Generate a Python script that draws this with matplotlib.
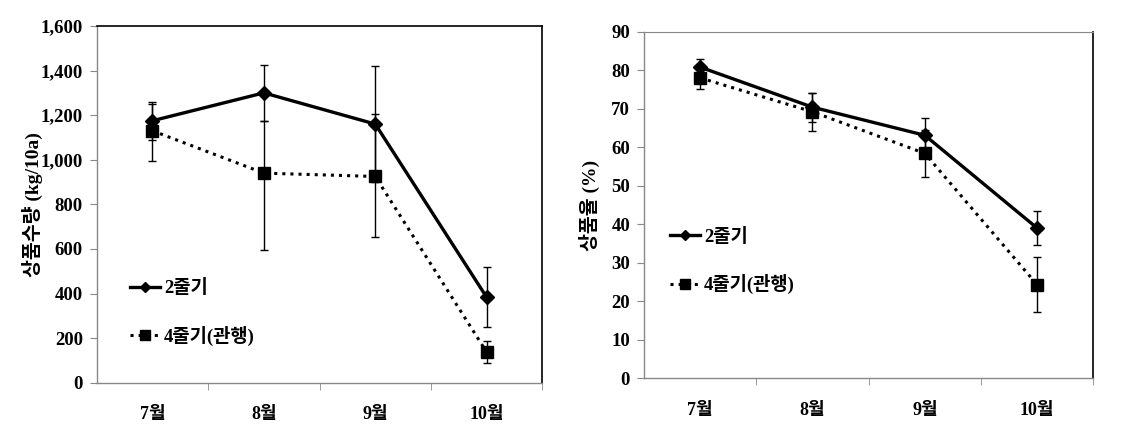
import matplotlib.pyplot as plt

plt.rcParams['font.family'] = ['Liberation Serif', 'Noto Sans CJK KR']
plt.rcParams['font.weight'] = 'bold'

months = ['7월', '8월', '9월', '10월']
labels = ['2줄기', '4줄기(관행)']

# 상품수량 (kg/10a)
yield2 = [1175, 1300, 1160, 383]
yield2_err = [85, 125, 260, 135]
yield4 = [1130, 940, 925, 137]
yield4_err_lo = [135, 345, 270, 50]
yield4_err_hi = [120, 235, 280, 50]

# 상품율 (%)
rate2 = [80.8, 70.4, 63.1, 39.0]
rate2_err = [2.2, 3.8, 4.4, 4.5]
rate4 = [78.0, 69.2, 58.4, 24.3]
rate4_err = [3.0, 5.0, 6.0, 7.2]

fig = plt.figure(figsize=(11.29, 4.42), dpi=100)
ax1 = fig.add_axes([0.0857, 0.1342, 0.3947, 0.807])
ax2 = fig.add_axes([0.5704, 0.1441, 0.398, 0.7842])

x = [1, 2, 3, 4]


def draw(ax, a, ae, b, be, ylim, yticks, ytl, ylabel, leg_pos, lpad):
    ax.errorbar(x, a, yerr=ae, color='black', lw=2.4, marker='D', ms=7,
                ecolor='black', elinewidth=1, capsize=3, capthick=1, label=labels[0])
    ax.errorbar(x, b, yerr=be, color='black', lw=2.2, ls=':', marker='s', ms=9,
                ecolor='black', elinewidth=1, capsize=3, capthick=1, label=labels[1])
    ax.set_xlim(0.5, 4.5)
    ax.set_ylim(*ylim)
    ax.set_yticks(yticks)
    ax.set_yticklabels(ytl, fontsize=13.5, fontweight='bold')
    ax.set_xticks(x)
    ax.set_xticklabels(months, fontsize=13, fontweight='bold')
    ax.set_xticks([1.5, 2.5, 3.5, 4.5], minor=True)
    ax.tick_params(axis='x', which='major', length=0, pad=17)
    ax.tick_params(axis='x', which='minor', length=5, color='#888888', direction='out')
    ax.tick_params(axis='y', length=5, color='#888888', direction='out', pad=5)
    ax.set_ylabel(ylabel, fontsize=14, fontweight='bold', labelpad=lpad)
    for s in ['left', 'bottom']:
        ax.spines[s].set_color('#888888')
        ax.spines[s].set_linewidth(1)
    ax.spines['right'].set_color('black')
    ax.spines['right'].set_linewidth(1.2)
    handles, lbls = ax.get_legend_handles_labels()
    handles = [h[0] for h in handles]
    ax.legend(handles, lbls, loc='center left', bbox_to_anchor=leg_pos, frameon=False,
              handlelength=1.6, handletextpad=0.2, labelspacing=1.5, borderpad=0,
              borderaxespad=0, markerscale=0.8,
              prop={'size': 13.5, 'weight': 'bold', 'family': ['Liberation Serif', 'Noto Sans CJK KR']})


draw(ax1, yield2, yield2_err, yield4, [yield4_err_lo, yield4_err_hi],
     (0, 1600), range(0, 1601, 200), ['{:,}'.format(v) for v in range(0, 1601, 200)],
     '상품수량 (kg/10a)', (0.075, 0.197), -2)
ax1.spines['top'].set_color('black')
ax1.spines['top'].set_linewidth(1.2)

draw(ax2, rate2, rate2_err, rate4, rate4_err,
     (0, 90), range(0, 91, 10), [str(v) for v in range(0, 91, 10)],
     '상품율 (%)', (0.058, 0.338), 8)
ax2.spines['top'].set_color('#888888')

fig.savefig('out.png', dpi=100)
